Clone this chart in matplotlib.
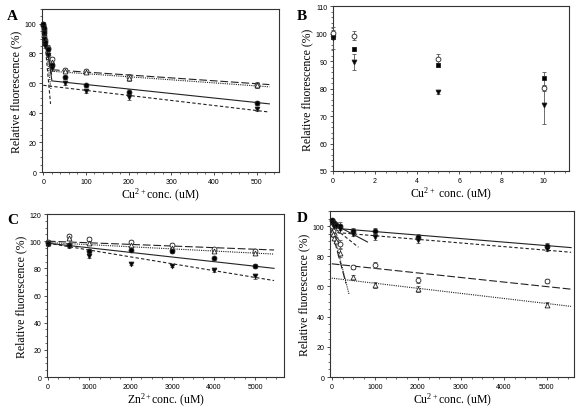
import numpy as np
import matplotlib
matplotlib.use("Agg")
import matplotlib.pyplot as plt
from matplotlib.ticker import MultipleLocator

# ---------------- DATA ----------------
# Panel A (Cu2+, uM)
A_x = [0, 1, 2, 5, 10, 20, 50, 100, 200, 500]
A_s1 = [100, 97, 94, 88, 83, 72, 64, 58.5, 54, 46.5]      # filled circle
A_s2 = [99, 96, 92, 89, 84, 76, 69, 68.5, 64, 59]          # open circle
A_s3 = [98, 94, 90, 85, 79, 70, 60, 54.5, 50.5, 42.5]      # filled triangle
A_s4 = [100, 96, 91, 87, 80, 74, 68.5, 67.5, 63.5, 58.5]   # open triangle
A_err = [1.5, 1.5, 1.5, 1.5, 1.5, 1.5, 1, 1, 2, 1.5]
# fitted lines: x-start, x-end, intercept, slope
A_fit_x0 = [20, 20, 0, 20, 0, 0, 0, 0]
A_fit_x1 = [530, 530, 530, 530, 20, 20, 17, 18]
A_fit_b = [62.1, 69.4, 58.5, 68.4, 100, 99, 100, 100]
A_fit_m = [-0.0304, -0.0196, -0.034, -0.0206, -1.9, -1.7, -3.18, -2.45]

# Panel B (Cu2+, uM)
B_x = [0, 1, 5, 10]
B_s1 = [98.7, 94.4, 88.6, 83.8]
B_s1_err = [0.8, 0.6, 0.6, 2.4]
B_s2 = [100.3, 99.2, 90.6, 80.1]
B_s2_err = [1.2, 1.6, 2.0, 1.0]
B_s3 = [98.3, 89.6, 78.7, 73.9]
B_s3_err = [4.0, 2.9, 0.8, 6.7]

# Panel C (Zn2+, uM)
C_x = [0, 500, 1000, 2000, 3000, 4000, 5000]
C_s1 = [98.5, 97.5, 93, 93.5, 92.5, 87.5, 81.5]
C_s2 = [99.5, 104, 101.5, 99.5, 97.5, 94, 92.5]
C_s3 = [98, 96.5, 89, 83.5, 82, 78.5, 74]
C_s4 = [99, 102.5, 98.5, 97, 95, 93, 91]
C_err = [1.2, 1.2, 1.5, 1.2, 1.2, 1.2, 1.5]
C_fit_x0 = [0, 0, 0, 0]
C_fit_x1 = [5456, 5456, 5456, 5456]
C_fit_b = [98.5, 100, 98.5, 99]
C_fit_m = [-0.00339, -0.00119, -0.00504, -0.00156]

# Panel D (Cu2+, uM)
D_x = [0, 25, 50, 100, 200, 500, 1000, 2000, 5000]
D_s1 = [104, 103, 102, 101, 100, 97, 96.5, 93, 87]
D_s2 = [102, 101, 100, 100, 98, 95, 93, 91, 85]
D_s3 = [100, 97, 94, 91, 88, 73, 74, 64.5, 63.5]
D_s4 = [96, 95, 92, 90, 82, 66, 61, 58, 48]
D_err = [1.5, 1.5, 1.5, 1.5, 2.5, 1.5, 2, 2, 1.5]
D_fit_x0 = [200, 0, 0, 0, 0, 0, 0, 0]
D_fit_x1 = [5566, 5566, 5566, 5566, 830, 620, 330, 400]
D_fit_b = [98.7, 96, 75, 65.5, 102, 100, 97, 100]
D_fit_m = [-0.00233, -0.0024, -0.00302, -0.00336, -0.0151, -0.0226, -0.106, -0.1125]

# ---------------- STYLE ----------------
serif = ['Liberation Serif', 'DejaVu Serif']
sans = ['Liberation Sans', 'DejaVu Sans']
plt.rcParams['font.family'] = sans
plt.rcParams['mathtext.fontset'] = 'custom'
plt.rcParams['mathtext.rm'] = 'Liberation Serif'
plt.rcParams['mathtext.it'] = 'Liberation Serif:italic'
plt.rcParams['mathtext.bf'] = 'Liberation Serif:bold'

LS_SOLID = '-'
LS_LONG = (0, (7, 2.5))
LS_SHORT = (0, (3, 2))
LS_DOT = (0, (1, 1))

fig = plt.figure(figsize=(5.77, 4.10), dpi=100)


def setup(ax, xlim, ylim, xmaj, xmin, ymaj, ymin, xlabel, letter, lx, ly):
    ax.set_xlim(*xlim)
    ax.set_ylim(*ylim)
    ax.xaxis.set_major_locator(MultipleLocator(xmaj))
    ax.xaxis.set_minor_locator(MultipleLocator(xmin))
    ax.yaxis.set_major_locator(MultipleLocator(ymaj))
    ax.yaxis.set_minor_locator(MultipleLocator(ymin))
    ax.tick_params(which='both', direction='out', labelsize=5, pad=1.5,
                   top=False, right=False, color='#333333')
    ax.tick_params(which='major', length=2.5, width=0.6)
    ax.tick_params(which='minor', length=1.5, width=0.5)
    for s in ax.spines.values():
        s.set_linewidth(0.8)
        s.set_color('#333333')
    ax.set_ylabel('Relative fluorescence (%)', family=serif, fontsize=8.5, labelpad=2)
    ax.set_xlabel(xlabel, family=serif, fontsize=8.5, labelpad=1)
    fig.text(lx, ly, letter, family=serif, fontsize=11, fontweight='bold',
             ha='left', va='top')


def series(ax, x, y, err, marker, filled):
    ax.errorbar(x, y, yerr=err, fmt='none', ecolor='#555555', elinewidth=0.6,
                capsize=1.5, capthick=0.6, zorder=3, clip_on=False)
    ax.plot(x, y, linestyle='none', marker=marker, markersize=3.5,
            markerfacecolor='black' if filled else 'white',
            markeredgecolor='#222222', markeredgewidth=0.6, zorder=4, clip_on=False)


def fits(ax, x0s, x1s, bs, ms, styles):
    for x0, x1, b, m, st in zip(x0s, x1s, bs, ms, styles):
        xs = np.array([x0, x1], dtype=float)
        ax.plot(xs, b + m * xs, linestyle=st, color='#222222', linewidth=0.8, zorder=2)


# Panel A
axA = fig.add_axes([0.0728, 0.578, 0.411, 0.3976])
setup(axA, (-3, 553), (0, 110), 100, 20, 20, 5, r'Cu$^{\mathrm{2+}}$conc. (uM)', 'A', 0.012, 0.975)
fits(axA, A_fit_x0, A_fit_x1, A_fit_b, A_fit_m,
     [LS_SOLID, LS_LONG, LS_SHORT, LS_DOT, LS_SOLID, LS_LONG, LS_SHORT, LS_DOT])
series(axA, A_x, A_s2, A_err, 'o', False)
series(axA, A_x, A_s4, A_err, '^', False)
series(axA, A_x, A_s1, A_err, 'o', True)
series(axA, A_x, A_s3, A_err, 'v', True)

# Panel B
axB = fig.add_axes([0.577, 0.5805, 0.409, 0.402])
setup(axB, (0, 11.2), (50, 110), 2, 0.5, 10, 2, r'Cu$^{\mathrm{2+}}$ conc. (uM)', 'B', 0.514, 0.975)
series(axB, B_x, B_s1, B_s1_err, 's', True)
series(axB, B_x, B_s2, B_s2_err, 'o', False)
series(axB, B_x, B_s3, B_s3_err, 'v', True)

# Panel C
axC = fig.add_axes([0.0815, 0.078, 0.411, 0.3976])
setup(axC, (-20, 5700), (0, 120), 1000, 250, 20, 5, r'Zn$^{\mathrm{2+}}$conc. (uM)', 'C', 0.012, 0.478)
fits(axC, C_fit_x0, C_fit_x1, C_fit_b, C_fit_m, [LS_SOLID, LS_LONG, LS_SHORT, LS_DOT])
series(axC, C_x, C_s2, C_err, 'o', False)
series(axC, C_x, C_s4, C_err, '^', False)
series(axC, C_x, C_s1, C_err, 'o', True)
series(axC, C_x, C_s3, C_err, 'v', True)

# Panel D
axD = fig.add_axes([0.572, 0.078, 0.423, 0.405])
setup(axD, (-40, 5636), (0, 110), 1000, 250, 20, 5, r'Cu$^{\mathrm{2+}}$conc. (uM)', 'D', 0.514, 0.482)
fits(axD, D_fit_x0, D_fit_x1, D_fit_b, D_fit_m,
     [LS_SOLID, LS_SHORT, LS_LONG, LS_DOT, LS_SOLID, LS_SHORT, LS_LONG, LS_DOT])
series(axD, D_x, D_s3, D_err, 'o', False)
series(axD, D_x, D_s4, D_err, '^', False)
series(axD, D_x, D_s1, D_err, 'o', True)
series(axD, D_x, D_s2, D_err, 'v', True)

fig.savefig('out.png', dpi=100)
